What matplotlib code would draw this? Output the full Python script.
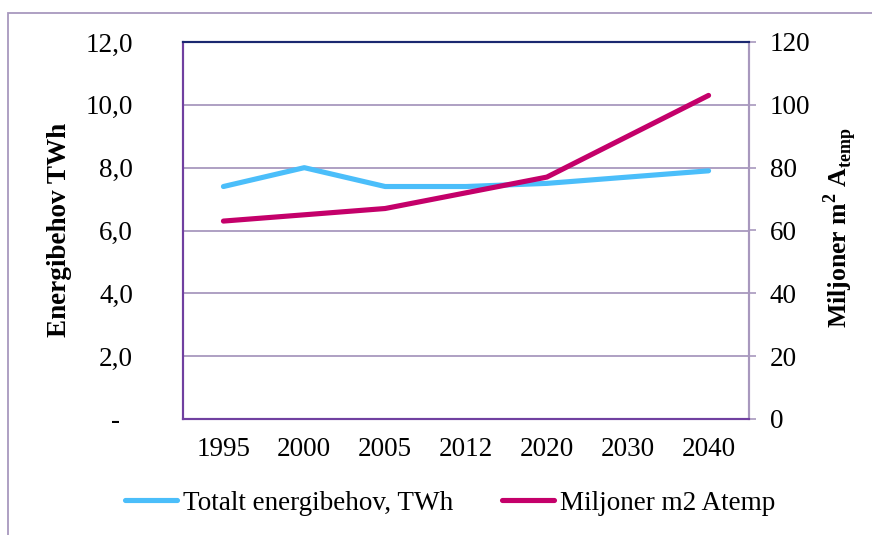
import matplotlib
matplotlib.use("Agg")
import matplotlib.pyplot as plt
from matplotlib.patches import Rectangle

plt.rcParams['font.family'] = ['Liberation Serif', 'DejaVu Serif']
plt.rcParams['mathtext.fontset'] = 'custom'
plt.rcParams['mathtext.rm'] = 'Liberation Serif'
plt.rcParams['mathtext.bf'] = 'Liberation Serif:bold'

# data
years = ['1995', '2000', '2005', '2012', '2020', '2030', '2040']
energy_twh = [7.4, 8.0, 7.4, 7.4, 7.5, 7.7, 7.9]
area_mm2 = [63, 65, 67, 72, 77, 90, 103]
left_ticks = [0, 2, 4, 6, 8, 10, 12]
left_labels = ['-\u00a0\u00a0', '2,0', '4,0', '6,0', '8,0', '10,0', '12,0']
right_ticks = [0, 20, 40, 60, 80, 100, 120]

blue = '#4BBEFA'
magenta = '#C4006A'
grid_col = '#A898BE'
purple = '#7040A0'
fs = 19.5

fig = plt.figure(figsize=(8.72, 5.35), dpi=100)
ax = fig.add_axes([183/872, 1-419/535, 566/872, 377/535])
ax2 = ax.twinx()

x = range(len(years))
l1, = ax.plot(x, energy_twh, color=blue, lw=3.7, solid_capstyle='round', label='Totalt energibehov, TWh')
l2, = ax2.plot(x, area_mm2, color=magenta, lw=3.7, solid_capstyle='round', label='Miljoner m2 Atemp')

ax.set_xlim(-0.5, len(years)-0.5)
ax.set_ylim(0, 12)
ax2.set_ylim(0, 120)
ax.set_xticks(list(x))
ax.set_xticklabels(years, fontsize=fs)
ax.set_yticks(left_ticks)
ax.set_yticklabels(left_labels, fontsize=fs)
ax2.set_yticks(right_ticks)
ax2.set_yticklabels([str(t) for t in right_ticks], fontsize=fs)

ax.tick_params(axis='x', length=0, pad=13)
ax.tick_params(axis='y', length=0, pad=36)
ax2.tick_params(axis='y', length=5, width=1.2, color=grid_col, pad=10)

ax.grid(axis='y', color=grid_col, lw=1.3)
ax.set_axisbelow(True)

for a in (ax, ax2):
    a.spines['top'].set_color('#1B2870')
    a.spines['left'].set_color(purple)
    a.spines['bottom'].set_color(purple)
    a.spines['right'].set_color(grid_col)
    for s in a.spines.values():
        s.set_linewidth(1.5)

fig.text(60/872, 1-230/535, 'Energibehov TWh', rotation=90, ha='center', va='center',
         fontsize=19.5, fontweight='bold')
fig.text(840/872, 1-228/535, r'Miljoner m$^{\mathbf{2}}$ A$_{\mathbf{temp}}$', rotation=90,
         ha='center', va='center', fontsize=18.5, fontweight='bold')

fig.legend(handles=[l1, l2], loc='center', bbox_to_anchor=(450/872, 1-503/535), ncol=2,
           frameon=False, fontsize=fs, handlelength=1.93, handletextpad=0.2, columnspacing=1.8)

# outer chart border
fig.patches.append(Rectangle((8/872, -0.1), 1.0, 1.1-13/535, transform=fig.transFigure,
                             fill=False, edgecolor=grid_col, lw=1.3))

fig.savefig('out.png', dpi=100)
